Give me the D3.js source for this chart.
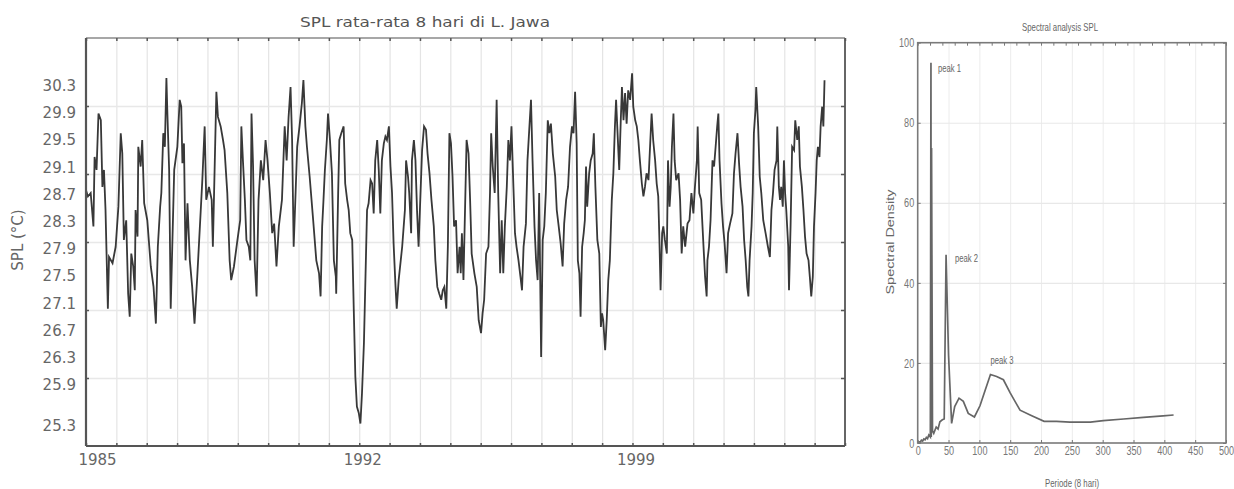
<!DOCTYPE html>
<html lang="en">
<head>
  <meta charset="utf-8">
  <title>SPL rata-rata 8 hari di L. Jawa</title>
  <script src="https://d3js.org/d3.v7.min.js"></script>
  <style>
    body { margin: 0; background: #fff; }
    svg { display: block; }
  </style>
</head>
<body>
<script>

// ---- data: SPL 8-day mean ([decimal year, deg C]) ----
var splSeries = [
  [1985.00,28.76],[1985.05,28.67],[1985.12,28.72],[1985.19,28.23],[1985.22,29.25],[1985.27,29.06],[1985.32,29.89],[1985.38,29.79],
  [1985.42,28.81],[1985.46,29.06],[1985.50,28.47],[1985.56,27.02],[1985.59,27.78],[1985.68,27.69],[1985.76,27.93],[1985.83,28.52],
  [1985.89,29.60],[1985.93,29.30],[1985.97,28.03],[1986.03,28.32],[1986.08,27.24],[1986.12,26.90],[1986.16,27.83],[1986.21,27.64],
  [1986.25,27.29],[1986.27,28.47],[1986.32,28.08],[1986.34,29.40],[1986.40,29.11],[1986.44,29.50],[1986.49,28.57],[1986.57,28.32],
  [1986.66,27.64],[1986.73,27.34],[1986.79,26.80],[1986.84,27.93],[1986.90,28.52],[1986.93,28.72],[1986.98,29.60],[1987.02,29.40],
  [1987.06,30.41],[1987.08,29.99],[1987.13,29.06],[1987.17,27.02],[1987.21,27.93],[1987.26,29.06],[1987.34,29.40],[1987.40,30.09],
  [1987.44,29.99],[1987.47,29.16],[1987.51,29.45],[1987.55,27.73],[1987.60,28.57],[1987.66,27.73],[1987.72,27.34],[1987.78,26.80],
  [1987.85,27.49],[1987.94,28.47],[1987.98,28.91],[1988.04,29.70],[1988.08,28.62],[1988.15,28.81],[1988.22,28.62],
  [1988.25,27.93],[1988.30,29.20],[1988.34,30.21],[1988.38,29.84],[1988.45,29.70],[1988.51,29.50],[1988.55,29.35],[1988.62,28.72],
  [1988.68,27.73],[1988.72,27.44],[1988.79,27.64],[1988.88,28.03],[1988.95,28.32],[1988.98,29.70],[1989.02,29.20],[1989.07,28.62],
  [1989.11,28.03],[1989.17,27.93],[1989.21,27.73],[1989.24,29.89],[1989.28,29.11],[1989.32,27.73],[1989.37,27.20],[1989.42,28.62],
  [1989.48,29.20],[1989.54,28.91],[1989.60,29.50],[1989.65,29.20],[1989.71,28.72],[1989.77,28.13],[1989.82,28.27],[1989.88,27.64],
  [1989.94,28.23],[1990.02,28.62],[1990.09,29.70],[1990.14,29.20],[1990.19,29.84],[1990.24,30.28],[1990.28,29.50],[1990.32,27.93],
  [1990.36,28.57],[1990.41,29.40],[1990.47,29.70],[1990.53,30.04],[1990.57,30.38],[1990.62,29.70],[1990.66,29.40],[1990.73,28.96],
  [1990.82,28.32],[1990.90,27.73],[1990.97,27.54],[1991.01,27.20],[1991.05,28.23],[1991.08,28.57],[1991.12,29.06],[1991.17,29.50],
  [1991.20,29.89],[1991.25,29.50],[1991.30,29.01],[1991.35,27.73],[1991.40,27.49],
  [1991.41,27.24],[1991.46,28.72],[1991.49,29.50],[1991.54,29.60],[1991.60,29.70],[1991.64,28.86],[1991.69,28.62],[1991.73,28.47],
  [1991.77,28.13],[1991.82,28.03],[1991.86,27.00],[1991.90,26.02],[1991.94,25.58],[1991.99,25.48],[1992.03,25.33],[1992.07,25.77],
  [1992.12,26.51],[1992.16,27.49],[1992.20,28.47],[1992.24,28.57],[1992.29,28.91],[1992.33,28.86],[1992.37,28.42],[1992.41,29.20],
  [1992.46,29.50],[1992.50,29.06],[1992.54,28.42],[1992.58,29.20],[1992.63,29.45],[1992.67,29.55],[1992.71,29.50],[1992.76,29.70],
  [1992.80,29.11],[1992.84,28.72],[1992.88,27.98],[1992.93,27.34],[1992.96,27.02],[1993.01,27.44],[1993.10,27.93],[1993.17,28.47],
  [1993.20,29.20],[1993.25,28.96],[1993.28,28.72],[1993.33,28.13],[1993.35,29.20],[1993.40,29.50],[1993.44,29.20],[1993.48,28.47],
  [1993.52,27.93],[1993.57,28.72],[1993.61,29.35],[1993.66,29.70],[1993.71,29.65],[1993.75,29.30],[1993.80,29.01],[1993.85,28.62],
  [1993.91,28.23],[1993.95,27.73],[1994.00,27.34],[1994.05,27.24],[1994.10,27.15],[1994.14,27.29],[1994.18,27.34],[1994.23,27.02],
  [1994.27,27.93],[1994.31,29.60],[1994.35,29.45],[1994.39,28.96],[1994.43,28.23],[1994.48,28.32],[1994.52,27.54],[1994.57,27.93],
  [1994.60,27.54],[1994.63,28.13],[1994.67,27.44],[1994.71,28.47],[1994.75,29.50],[1994.80,29.30],[1994.84,28.62],[1994.88,27.83],
  [1994.95,27.54],[1995.01,27.34],[1995.06,26.85],[1995.12,26.66],[1995.16,26.95],[1995.20,27.15],[1995.25,27.83],[1995.31,27.93],
  [1995.35,28.72],[1995.38,29.60],[1995.42,29.11],[1995.47,28.72],[1995.52,30.09],[1995.56,28.72],[1995.61,27.54],[1995.65,28.32],
  [1995.69,27.54],[1995.73,28.23],[1995.78,28.81],[1995.82,29.50],[1995.86,29.20],[1995.90,29.70],[1995.95,28.81],[1995.99,28.13],
  [1996.03,27.93],[1996.08,27.73],[1996.13,27.49],[1996.17,27.29],[1996.21,27.93],[1996.27,28.27],[1996.31,29.20],[1996.36,29.70],
  [1996.40,30.09],[1996.44,29.20],[1996.49,28.23],[1996.53,27.73],[1996.57,27.44],[1996.61,28.72],[1996.66,26.31],[1996.70,28.03],
  [1996.74,28.23],[1996.78,28.72],[1996.83,29.79],[1996.87,29.60],[1996.91,29.74],[1996.96,29.30],[1997.02,28.96],[1997.06,28.47],
  [1997.11,28.23],[1997.16,27.98],[1997.21,27.64],[1997.25,28.27],[1997.30,28.62],[1997.35,28.81],[1997.40,29.40],[1997.45,29.70],
  [1997.49,29.60],[1997.53,30.21],[1997.57,29.45],[1997.60,27.73],[1997.64,27.54],[1997.67,26.90],[1997.71,27.93],[1997.75,28.13],
  [1997.78,28.32],[1997.81,29.11],[1997.84,28.52],[1997.89,29.01],[1997.93,29.20],[1997.98,29.30],[1998.01,29.60],[1998.05,28.81],
  [1998.10,28.03],[1998.15,27.83],[1998.19,26.75],[1998.22,26.95],[1998.25,26.85],[1998.30,26.41],[1998.34,26.85],[1998.38,27.44],
  [1998.42,27.73],[1998.47,28.62],[1998.51,29.01],[1998.55,29.70],[1998.58,30.09],[1998.61,29.70],[1998.66,29.06],[1998.70,29.79],
  [1998.73,30.28],[1998.77,29.79],[1998.81,30.19],[1998.85,29.74],[1998.89,30.23],[1998.94,30.09],[1998.99,30.48],[1999.02,29.99],
  [1999.07,29.79],[1999.11,29.70],[1999.15,29.50],[1999.19,29.20],[1999.24,28.86],[1999.28,28.67],[1999.32,28.81],[1999.36,29.01],
  [1999.41,28.91],[1999.45,29.40],[1999.49,29.89],[1999.53,29.50],[1999.58,29.20],[1999.62,28.86],[1999.66,28.67],[1999.69,28.03],
  [1999.72,27.29],[1999.76,28.13],[1999.79,28.23],[1999.83,28.03],[1999.88,27.83],[1999.91,29.20],[1999.95,28.52],[1999.98,28.81],
  [2000.01,29.40],[2000.05,29.89],[2000.08,29.20],[2000.12,28.91],[2000.18,29.01],[2000.22,28.62],[2000.26,27.83],[2000.30,28.23],
  [2000.35,27.93],[2000.41,28.27],[2000.46,28.32],[2000.51,28.72],[2000.56,28.42],[2000.60,28.81],[2000.65,29.20],[2000.67,29.70],
  [2000.71,28.72],[2000.76,28.62],[2000.82,27.93],[2000.86,27.49],[2000.90,27.20],
  [2000.92,27.73],[2000.96,27.93],[2001.00,28.32],[2001.05,29.20],[2001.09,29.11],[2001.13,29.40],[2001.17,29.70],[2001.20,29.89],
  [2001.23,29.20],[2001.28,28.57],[2001.32,28.23],[2001.36,27.98],[2001.41,27.54],[2001.45,28.13],[2001.50,28.27],[2001.56,28.42],
  [2001.60,29.01],[2001.64,29.30],[2001.69,29.60],[2001.73,29.16],[2001.77,28.81],[2001.82,28.52],[2001.86,28.03],[2001.90,27.73],
  [2001.94,27.34],[2001.97,27.20],[2002.00,27.73],[2002.05,28.23],[2002.08,28.72],[2002.11,29.60],[2002.15,29.94],[2002.17,30.28],
  [2002.22,29.70],[2002.26,28.96],[2002.30,28.72],[2002.35,28.32],[2002.41,28.13],[2002.47,27.93],[2002.52,27.78],[2002.56,28.47],
  [2002.60,28.72],[2002.64,29.06],[2002.69,29.20],[2002.71,29.70],[2002.75,28.81],[2002.78,28.62],[2002.81,28.81],[2002.85,28.52],
  [2002.88,29.20],[2002.91,28.72],[2002.94,28.47],[2002.99,27.93],[2003.01,27.29],[2003.05,28.23],[2003.09,29.40],[2003.14,29.35],
  [2003.17,29.79],[2003.22,29.50],[2003.26,29.70],[2003.29,29.11],[2003.34,28.81],[2003.38,28.47],[2003.42,28.08],[2003.46,27.83],
  [2003.51,27.73],[2003.55,27.44],[2003.58,27.20],[2003.62,27.49],[2003.65,28.23],[2003.69,28.72],[2003.72,29.20],[2003.75,29.40],
  [2003.79,29.25],[2003.82,29.70],[2003.86,29.99],[2003.89,29.70],[2003.92,30.38]
];

// y tick labels as printed on the original
var splTickLabels = [30.3, 29.9, 29.5, 29.1, 28.7, 28.3, 27.9, 27.5, 27.1, 26.7, 26.3, 25.9, 25.3];
var splGridValues = [26, 27, 28, 29, 30];
var yearLabels = [1985, 1992, 1999];
var yearGridStep = 7 / 9;          // grid column width, in years
var yearGridCount = 25;

// ---- data: spectral analysis ----
var periods = [0, 2, 4, 6, 8, 10, 12, 14, 16, 18, 20.5, 21.5, 22, 22.5, 24, 26, 30, 33, 36, 40, 43, 46, 50, 55, 60,
               67, 74, 82, 92, 101, 109, 118, 128, 139, 150, 166, 185, 205, 225, 247, 280, 301, 334, 366, 398, 415];
var density = [0, 0.3, 0.2, 0.7, 0.5, 1.0, 0.8, 1.4, 1.1, 2.0, 1.5, 95, 1.5, 73.7, 3.0, 2.4, 4.0, 3.5, 5.3, 5.8, 6.0, 47, 22, 4.9, 9.1,
               11.2, 10.4, 7.4, 6.5, 9.3, 13.0, 17.1, 16.6, 15.8, 12.5, 8.2, 6.8, 5.4, 5.4, 5.2, 5.2, 5.6, 6.0, 6.4, 6.8, 7.0];
var densityTicks = [0, 20, 40, 60, 80, 100];
var periodTicks = [0, 50, 100, 150, 200, 250, 300, 350, 400, 450, 500];
var peakNames = ["peak 1", "peak 2", "peak 3"];
var peakPeriods = [21.5, 46, 118];
var peakDensity = [95, 47, 17.1];

// ---- layout ----
var W = 1234, H = 489;
var left = {x0: 86, x1: 845, y0: 38, y1: 446};
var right = {x0: 917.7, x1: 1226, y0: 42.7, y1: 443};
var peakOffsets = [[7, 9], [9, 7], [0, -11]];

var svg = d3.select("body").append("svg")
  .attr("width", W)
  .attr("height", H);

svg.append("rect").attr("width", W).attr("height", H).attr("fill", "#fff");

// =============== left chart: SPL time series ===============
var x = d3.scaleLinear()
  .domain([1985, 1985 + yearGridCount * yearGridStep])
  .range([left.x0, left.x1]);
var y = d3.scaleLinear()
  .domain([25, 31])
  .range([left.y1, left.y0]);

var yearGrid = d3.range(0, yearGridCount + 1).map(function(k) { return 1985 + k * yearGridStep; });

var gL = svg.append("g");

// grid
gL.append("g")
  .attr("transform", "translate(0," + left.y1 + ")")
  .call(d3.axisBottom(x).tickValues(yearGrid.slice(1, -1)).tickSize(-(left.y1 - left.y0)).tickFormat(""))
  .call(function(g) { g.select(".domain").remove(); })
  .selectAll("line").attr("stroke", "#e4e4e4").attr("stroke-width", 1.2);

gL.append("g")
  .attr("transform", "translate(" + left.x0 + ",0)")
  .call(d3.axisLeft(y).tickValues(splGridValues).tickSize(-(left.x1 - left.x0)).tickFormat(""))
  .call(function(g) { g.select(".domain").remove(); })
  .selectAll("line").attr("stroke", "#e8e8e8").attr("stroke-width", 1.5);

// series
var line = d3.line()
  .x(function(d) { return x(d[0]); })
  .y(function(d) { return y(d[1]); });

gL.append("path")
  .datum(splSeries)
  .attr("d", line)
  .attr("fill", "none")
  .attr("stroke", "#383838")
  .attr("stroke-width", 1.8)
  .attr("stroke-linejoin", "miter");

// frame
gL.append("line").attr("x1", left.x0).attr("x2", left.x1).attr("y1", left.y0).attr("y2", left.y0)
  .attr("stroke", "#8a8a8a").attr("stroke-width", 1.5);
gL.append("line").attr("x1", left.x1).attr("x2", left.x1).attr("y1", left.y0).attr("y2", left.y1)
  .attr("stroke", "#666").attr("stroke-width", 2);
gL.append("line").attr("x1", left.x0).attr("x2", left.x1).attr("y1", left.y1).attr("y2", left.y1)
  .attr("stroke", "#555").attr("stroke-width", 2);
gL.append("line").attr("x1", left.x0).attr("x2", left.x0).attr("y1", left.y0).attr("y2", left.y1)
  .attr("stroke", "#555").attr("stroke-width", 2.2);

// little inner ticks on all four sides
function tickStyle(g) {
  g.select(".domain").remove();
  g.selectAll("line").attr("stroke", "#555").attr("stroke-width", 1.5);
}
gL.append("g").attr("transform", "translate(0," + left.y1 + ")")
  .call(d3.axisBottom(x).tickValues(yearGrid).tickSize(-3).tickFormat("")).call(tickStyle);
gL.append("g").attr("transform", "translate(0," + left.y0 + ")")
  .call(d3.axisTop(x).tickValues(yearGrid).tickSize(-3).tickFormat("")).call(tickStyle);
gL.append("g").attr("transform", "translate(" + left.x1 + ",0)")
  .call(d3.axisRight(y).tickValues(splGridValues).tickSize(-4).tickFormat("")).call(tickStyle);
gL.append("g").attr("transform", "translate(" + left.x0 + ",0)")
  .call(d3.axisLeft(y).tickValues(splGridValues).tickSize(-3).tickFormat("")).call(tickStyle);

// labels
var yAxis = gL.append("g")
  .attr("transform", "translate(" + left.x0 + ",0)")
  .call(d3.axisLeft(y).tickValues(splTickLabels).tickSize(0).tickPadding(10).tickFormat(d3.format(".1f")));
yAxis.select(".domain").remove();
yAxis.selectAll("text")
  .attr("font-family", "DejaVu Sans, sans-serif")
  .attr("font-size", "15px")
  .attr("fill", "#666");

var xAxis = gL.append("g")
  .attr("transform", "translate(0," + left.y1 + ")")
  .call(d3.axisBottom(x).tickValues(yearLabels).tickSize(0).tickPadding(8).tickFormat(d3.format("d")));
xAxis.select(".domain").remove();
xAxis.selectAll("text")
  .attr("font-family", "DejaVu Sans, sans-serif")
  .attr("font-size", "15px")
  .attr("fill", "#666")
  .attr("dx", function(d, i) { return i === 0 ? 11 : 3; });

gL.append("text")
  .attr("x", 425).attr("y", 27)
  .attr("text-anchor", "middle")
  .attr("font-family", "DejaVu Sans, sans-serif")
  .attr("font-size", "14px")
  .attr("fill", "#555")
  .attr("textLength", 250)
  .attr("lengthAdjust", "spacingAndGlyphs")
  .text("SPL rata-rata 8 hari di L. Jawa");

gL.append("text")
  .attr("transform", "translate(23,240) rotate(-90)")
  .attr("text-anchor", "middle")
  .attr("font-family", "DejaVu Sans, sans-serif")
  .attr("font-size", "15px")
  .attr("fill", "#666")
  .text("SPL (°C)");

// =============== right chart: spectral analysis ===============
var px = d3.scaleLinear().domain([0, 500]).range([right.x0, right.x1]);
var py = d3.scaleLinear().domain([0, 100]).range([right.y1, right.y0]);

var gR = svg.append("g");
var narrow = "'Liberation Sans Narrow', 'Arial Narrow', 'Liberation Sans', sans-serif";

gR.append("g")
  .attr("transform", "translate(0," + right.y1 + ")")
  .call(d3.axisBottom(px).tickValues(periodTicks.slice(1, -1)).tickSize(-(right.y1 - right.y0)).tickFormat(""))
  .call(function(g) { g.select(".domain").remove(); })
  .selectAll("line").attr("stroke", "#ececec").attr("stroke-width", 1);

gR.append("g")
  .attr("transform", "translate(" + right.x0 + ",0)")
  .call(d3.axisLeft(py).tickValues(densityTicks.slice(1, -1)).tickSize(-(right.x1 - right.x0)).tickFormat(""))
  .call(function(g) { g.select(".domain").remove(); })
  .selectAll("line").attr("stroke", "#e8e8e8").attr("stroke-width", 1.2);

var spec = periods.map(function(p, i) { return [p, density[i]]; });
gR.append("path")
  .datum(spec)
  .attr("d", d3.line().x(function(d) { return px(d[0]); }).y(function(d) { return py(d[1]); }))
  .attr("fill", "none")
  .attr("stroke", "#666")
  .attr("stroke-width", 1.7);

gR.append("rect")
  .attr("x", right.x0).attr("y", right.y0)
  .attr("width", right.x1 - right.x0).attr("height", right.y1 - right.y0)
  .attr("fill", "none").attr("stroke", "#7a7a7a").attr("stroke-width", 1.6);

function smallTicks(g) {
  g.select(".domain").remove();
  g.selectAll("line").attr("stroke", "#777").attr("stroke-width", 1);
}
gR.append("g").attr("transform", "translate(0," + right.y0 + ")")
  .call(d3.axisTop(px).ticks(20).tickSize(-3).tickFormat("")).call(smallTicks);
gR.append("g").attr("transform", "translate(" + right.x1 + ",0)")
  .call(d3.axisRight(py).tickValues(densityTicks).tickSize(-3).tickFormat("")).call(smallTicks);

var pyAxis = gR.append("g")
  .attr("transform", "translate(" + right.x0 + ",0)")
  .call(d3.axisLeft(py).tickValues(densityTicks).tickSize(-3).tickPadding(5));
pyAxis.select(".domain").remove();
pyAxis.selectAll("line").attr("stroke", "#777");
pyAxis.selectAll("text")
  .attr("font-family", narrow).attr("font-size", "13px").attr("fill", "#777")
  .attr("transform", "scale(0.7,1)");

var pxAxis = gR.append("g")
  .attr("transform", "translate(0," + right.y1 + ")")
  .call(d3.axisBottom(px).tickValues(periodTicks).tickSize(-3).tickPadding(3));
pxAxis.select(".domain").remove();
pxAxis.selectAll("line").attr("stroke", "#777");
pxAxis.selectAll("text")
  .attr("font-family", narrow).attr("font-size", "13px").attr("fill", "#777")
  .attr("transform", "scale(0.7,1)");

// peak labels
gR.selectAll(".peak")
  .data(peakNames)
  .enter()
  .append("text")
  .attr("class", "peak")
  .attr("x", function(d, i) { return px(peakPeriods[i]) + peakOffsets[i][0]; })
  .attr("y", function(d, i) { return py(peakDensity[i]) + peakOffsets[i][1]; })
  .attr("font-family", narrow).attr("font-size", "10px").attr("fill", "#666")
  .attr("textLength", 23).attr("lengthAdjust", "spacingAndGlyphs")
  .text(function(d) { return d; });

gR.append("text")
  .attr("x", 1060).attr("y", 31)
  .attr("text-anchor", "middle")
  .attr("font-family", narrow).attr("font-size", "11px").attr("fill", "#666")
  .attr("textLength", 76).attr("lengthAdjust", "spacingAndGlyphs")
  .text("Spectral analysis SPL");

gR.append("text")
  .attr("x", 1072).attr("y", 487)
  .attr("text-anchor", "middle")
  .attr("font-family", narrow).attr("font-size", "10px").attr("fill", "#666")
  .attr("textLength", 54).attr("lengthAdjust", "spacingAndGlyphs")
  .text("Periode (8 hari)");

gR.append("text")
  .attr("transform", "translate(894,242) rotate(-90)")
  .attr("text-anchor", "middle")
  .attr("font-family", narrow).attr("font-size", "10px").attr("fill", "#666")
  .attr("textLength", 105).attr("lengthAdjust", "spacingAndGlyphs")
  .text("Spectral Density");

</script>
</body>
</html>
